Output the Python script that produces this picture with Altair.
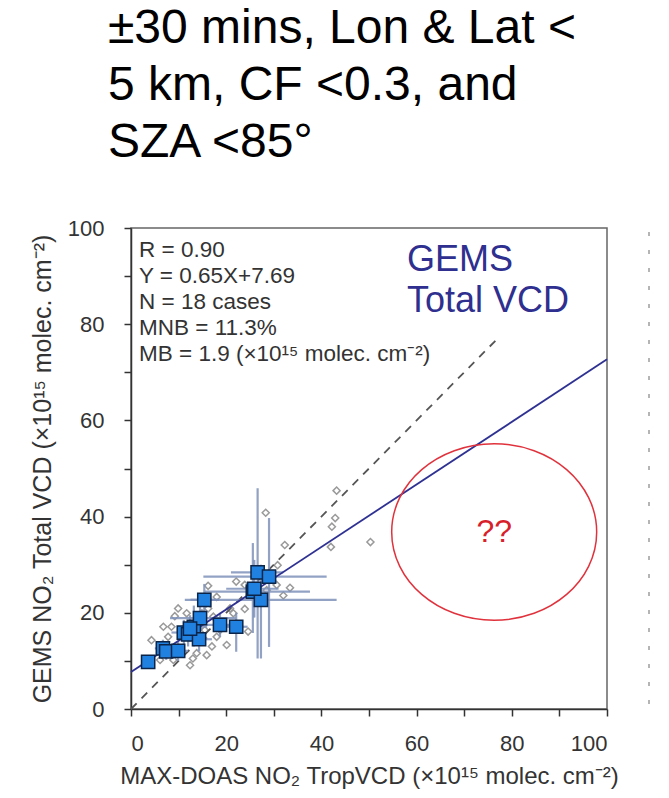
import altair as alt
import pandas as pd

# ---- data ----
# 18 matched cases (blue squares) with their variability bars
sq_x = [3.6, 6.7, 7.4, 9.9, 11.1, 12.0, 13.2, 14.3, 14.5, 15.4, 18.7, 22.1, 25.6, 26.6, 29.0, 27.3, 25.9, 12.4]
sq_y = [9.8, 12.6, 12.0, 12.1, 15.9, 15.5, 17.1, 14.5, 18.9, 22.7, 17.5, 17.1, 24.4, 28.4, 27.5, 22.7, 25.0, 16.7]
sq_xlo = [2.2, 5.0, 6.0, 8.0, 8.5, 10.0, 10.5, 11.5, 8.2, 12.5, 15.0, 20.0, 15.5, 21.0, 15.2, 11.3, 20.0, 10.0]
sq_xhi = [5.0, 8.5, 9.0, 12.0, 13.8, 14.0, 16.0, 17.0, 22.0, 18.5, 23.5, 24.5, 37.6, 32.0, 41.1, 43.2, 31.0, 15.0]
sq_ylo = [8.5, 10.8, 10.2, 10.0, 13.5, 13.0, 13.0, 12.0, 13.7, 19.5, 15.0, 11.9, 15.8, 10.5, 12.9, 10.5, 19.0, 14.0]
sq_yhi = [11.2, 14.4, 13.5, 14.2, 18.5, 17.5, 21.5, 17.0, 22.7, 26.0, 20.0, 20.0, 34.5, 45.9, 39.7, 30.0, 31.0, 19.5]

# individual comparisons (open gray diamonds)
gd_x = [28.3, 43.2, 42.9, 42.2, 42.0, 50.3, 32.3, 30.8, 33.4, 32.0, 22.1, 16.2, 18.0, 23.9, 21.5,
        9.9, 11.7, 9.2, 6.8, 8.5, 4.3, 7.8, 6.1, 8.9, 12.4, 13.0, 15.9, 17.0, 20.1, 18.0,
        24.6, 18.7, 15.5, 20.8, 17.3, 23.9, 14.9, 13.8, 30.6, 28.5, 16.2, 7.5, 15.2]
gd_y = [40.8, 45.4, 39.7, 37.9, 33.7, 34.7, 34.1, 29.9, 25.2, 23.6, 26.5, 25.6, 23.3, 20.8, 19.9,
        20.9, 19.9, 19.3, 17.1, 17.1, 14.3, 15.0, 10.2, 10.2, 9.1, 10.5, 11.2, 13.0, 13.3, 15.0,
        16.1, 16.4, 16.4, 20.9, 19.2, 25.8, 19.9, 11.6, 25.8, 24.7, 20.9, 13.0, 14.7]

# reference lines
one_x = [0, 77]
one_y = [0, 77]
fit_x = [0, 100]
fit_y = [7.69, 72.69]

# "??" region
ell_x = [76.3]
ell_y = [36.8]
ell_label = ["??"]

ticks = [0, 10, 20, 30, 40, 50, 60, 70, 80, 90, 100]

header_lines = ["±30 mins, Lon & Lat <", "5 km, CF <0.3, and", "SZA <85°"]
stats_lines = ["R = 0.90", "Y = 0.65X+7.69", "N = 18 cases", "MNB = 11.3%",
               "MB = 1.9 (×10¹⁵ molec. cm⁻²)"]
product_lines = ["GEMS", "Total VCD"]

x_title = "MAX-DOAS NO₂ TropVCD (×10¹⁵ molec. cm⁻²)"
y_title = "GEMS NO₂ Total VCD (×10¹⁵ molec. cm⁻²)"

# ---- tables ----
sq = pd.DataFrame({"x": sq_x, "y": sq_y, "xlo": sq_xlo, "xhi": sq_xhi, "ylo": sq_ylo, "yhi": sq_yhi})
gd = pd.DataFrame({"x": gd_x, "y": gd_y})
one = pd.DataFrame({"x": one_x, "y": one_y})
fit = pd.DataFrame({"x": fit_x, "y": fit_y})
ell = pd.DataFrame({"x": ell_x, "y": ell_y, "t": ell_label})

FONT = "Liberation Sans"
xs = alt.Scale(domain=[0, 100], nice=False, zero=False)
ys = alt.Scale(domain=[0, 100], nice=False, zero=False)
lab = "datum.value % 20 == 0 ? datum.label : ''"
xaxis = alt.Axis(values=ticks, labelExpr=lab, title=x_title, tickSize=7,
                 labelPadding=17, titlePadding=10, titleFontSize=24)
yaxis = alt.Axis(values=ticks, labelExpr=lab, title=y_title, tickSize=7,
                 labelPadding=20, titlePadding=12, titleFontSize=25)


def X(f="x"):
    return alt.X(f"{f}:Q", scale=xs, axis=xaxis)


def Y(f="y"):
    return alt.Y(f"{f}:Q", scale=ys, axis=yaxis)


diamonds = alt.Chart(gd).mark_point(shape="diamond", filled=False, size=50,
                                    stroke="#9a9a9a", strokeWidth=1.5, opacity=1).encode(x=X(), y=Y())

oneline = alt.Chart(one).mark_line(color="#555555", strokeDash=[8, 7], strokeWidth=1.8).encode(x=X(), y=Y())

hbars = alt.Chart(sq).mark_rule(color="#7f92ba", strokeWidth=2.2, opacity=0.85).encode(
    x=X("xlo"), x2="xhi:Q", y=Y())
vbars = alt.Chart(sq).mark_rule(color="#7f92ba", strokeWidth=2.2, opacity=0.85).encode(
    x=X(), y=Y("ylo"), y2="yhi:Q")

fitline = alt.Chart(fit).mark_line(color="#2e3192", strokeWidth=1.8).encode(x=X(), y=Y())

squares = alt.Chart(sq).mark_point(shape="square", filled=True, size=175, fill="#2181e0",
                                   stroke="#0b2447", strokeWidth=1.5, opacity=1).encode(x=X(), y=Y())

ellipse_path = "M-1,0A1,0.861,0,1,0,1,0A1,0.861,0,1,0,-1,0Z"
ellipse = alt.Chart(ell).mark_point(shape=ellipse_path, size=42025, filled=False,
                                    stroke="#e0323c", strokeWidth=1.5, opacity=1).encode(x=X(), y=Y())
qq = alt.Chart(ell).mark_text(fontSize=32, font=FONT, color="#d8202a", align="center",
                              baseline="middle").encode(x=X(), y=Y(), text="t:N")

stats = alt.Chart(ell).mark_text(text=stats_lines, align="left", baseline="alphabetic", fontSize=22.5,
                                 lineHeight=26, font=FONT, color="#333333").encode(
    x=alt.value(8), y=alt.value(29))

product = alt.Chart(ell).mark_text(text=product_lines, align="left", baseline="alphabetic", fontSize=36,
                                   lineHeight=41, font=FONT, color="#2e2f8f").encode(
    x=alt.value(276), y=alt.value(43))

header = alt.Chart(ell).mark_text(text=header_lines, align="left", baseline="alphabetic", fontSize=48,
                                  lineHeight=57, font=FONT, color="#000000").encode(
    x=alt.value(-23), y=alt.value(-185))

edge = alt.Chart(ell).mark_rule(color="#b5b5b5", strokeWidth=2, strokeDash=[4, 14]).encode(
    x=alt.value(518), y=alt.value(4), y2=alt.value(481))

chart = alt.layer(diamonds, oneline, hbars, vbars, fitline, squares, ellipse, qq,
                  stats, product, header, edge).properties(
    width=476, height=481,
    padding={"left": 131, "top": 228, "right": 62, "bottom": 89},
    autosize=alt.AutoSizeParams(type="none"),
    background="white",
).configure_view(stroke="#666666", strokeWidth=1.5).configure_axis(
    domainColor="#333333", tickColor="#333333", domainWidth=1.5, tickWidth=1.5,
    labelFont=FONT, labelFontSize=22, labelColor="#333333",
    titleFont=FONT, titleFontWeight="normal", titleColor="#333333", grid=False,
)

chart.save("out.html", embed_options={"renderer": "svg", "actions": False})
